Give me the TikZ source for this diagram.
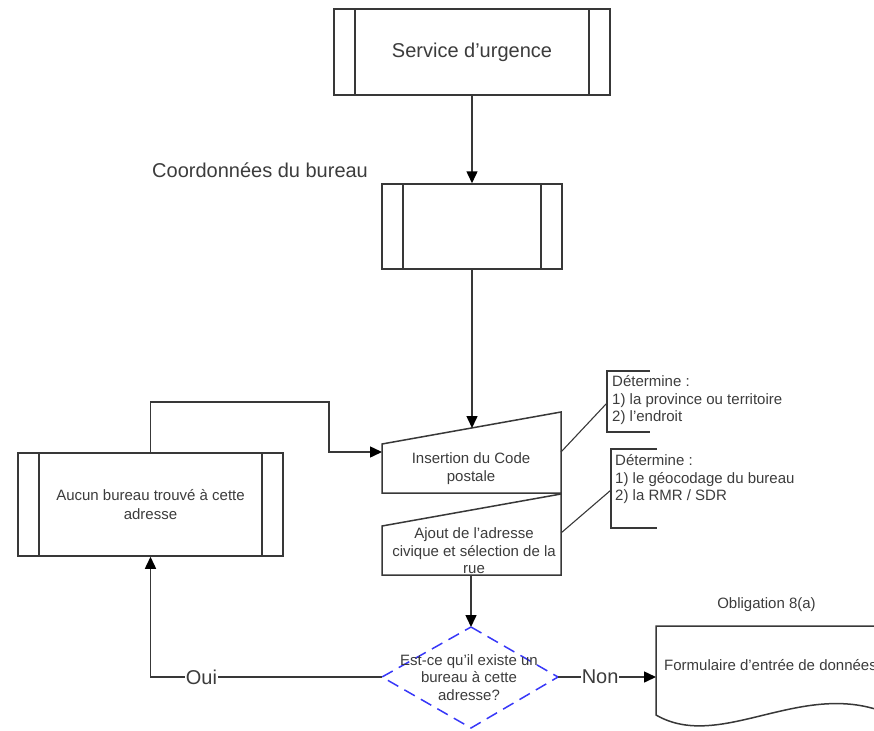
\documentclass[tikz,border=0pt]{standalone}
\usepackage{fontspec}
\setmainfont{Liberation Sans}
\usetikzlibrary{arrows.meta,calc}

\definecolor{ink}{HTML}{383838}
\definecolor{txt}{HTML}{3C3C3C}
\definecolor{decblue}{HTML}{3838F8}

\newcommand\txtS{\fontsize{15}{17.5}\selectfont}
\newcommand\txtL{\fontsize{20}{24}\selectfont}

\tikzset{
  flowline/.style={draw=ink, line width=1.5pt},
  arr/.style={flowline, -{Triangle[length=12pt,width=11pt,color=black]}},
  thinline/.style={draw=ink, line width=1.1pt},
  proc/.style={rectangle, flowline, fill=white, inner sep=0pt,
    text=txt, align=center,
    path picture={
      \draw[flowline]
        ([xshift=21pt]path picture bounding box.north west) --
        ([xshift=21pt]path picture bounding box.south west)
        ([xshift=-21pt]path picture bounding box.north east) --
        ([xshift=-21pt]path picture bounding box.south east);
    }},
  lbl/.style={text=txt, inner sep=0pt, align=center, font=\txtS},
  biglbl/.style={text=txt, inner sep=0pt, font=\txtL},
  edgelbl/.style={biglbl, fill=white, inner xsep=1pt, inner ysep=2pt},
  note/.style={text=txt, inner sep=0pt, align=left, font=\txtS},
  decision/.style={draw=decblue, line width=1.5pt, dash pattern=on 12pt off 7pt},
}

\begin{document}
\begin{tikzpicture}[x=1pt, y=-1pt, line join=miter]
\useasboundingbox (0,0) rectangle (874,730);
\clip (0,0) rectangle (874,730);

% --- predefined-process boxes
\node[proc, minimum width=276pt, minimum height=86pt, font=\txtL] (svc) at (472,52) {Service d’urgence};
\node[proc, minimum width=180pt, minimum height=85pt] (coord) at (472,226.5) {};
\node[biglbl, anchor=west] (coordlbl) at (152,170) {Coordonnées du bureau};
\node[proc, minimum width=265pt, minimum height=103pt, font=\txtS] (aucun) at (150.5,504.5)
  {Aucun bureau trouvé à cette\\[1.5pt]adresse};

% --- manual input: postal code
\coordinate (insTL) at (382,444);
\coordinate (insTR) at (561,412);
\coordinate (insBR) at (561,493);
\coordinate (insBL) at (382,493);
\draw[flowline, fill=white] (insTL) -- (insTR) -- (insBR) -- (insBL) -- cycle;
\node[lbl] (ins) at (471,468.5) {Insertion du Code\\postale};
\coordinate (insIn) at (472,428);
\coordinate (insW) at (382,452);
\coordinate (insE) at (561,452);

% --- manual input: civic address
\coordinate (ajTL) at (382,526);
\coordinate (ajTR) at (561,494);
\coordinate (ajBR) at (561,575);
\coordinate (ajBL) at (382,575);
\draw[flowline, fill=white] (ajTL) -- (ajTR) -- (ajBR) -- (ajBL) -- cycle;
\node[lbl] (ajout) at (474,551) {Ajout de l’adresse\\civique et sélection de la\\rue};
\coordinate (ajBot) at (471,575);
\coordinate (ajE) at (561,533);

% --- decision
\coordinate (decT) at (471,627);
\coordinate (decL) at (382,677);
\coordinate (decR) at (558,677);
\coordinate (decB) at (471,728);
\draw[decision] (decT) -- (decR) -- (decB) -- (decL) -- cycle;
\node[lbl] (dec) at (469,677.5) {Est-ce qu’il existe un\\bureau à cette\\adresse?};

% --- document: data entry form
\coordinate (formW) at (656,677);
\draw[flowline, fill=white] (656,715) -- (656,626) -- (900,626) -- (900,712)
  -- (884,712) .. controls (800,680) and (720,752) .. (656,715) -- cycle;
\node[lbl, anchor=west] (form) at (664,665) {Formulaire d’entrée de données};
\node[lbl] (oblig) at (766.5,605) {Obligation 8(a)};

% --- annotations
\draw[flowline] (650,371) -- (607,371) -- (607,432) -- (650,432);
\coordinate (noteA) at (607,403);
\node[note, anchor=north west] (annA) at (612,375.5)
  {Détermine :\\1) la province ou territoire\\2) l’endroit};
\draw[flowline] (657,449) -- (611,449) -- (611,528) -- (657,528);
\coordinate (noteB) at (611,490);
\node[note, anchor=north west] (annB) at (615,454.5)
  {Détermine :\\1) le géocodage du bureau\\2) la RMR / SDR};
\draw[thinline] (insE) -- (noteA);
\draw[thinline] (ajE) -- (noteB);

% --- flow connectors
\draw[arr] (svc.south) -- (coord.north);
\draw[arr] (coord.south) -- (insIn);
\draw[arr] (ajBot) -- (decT);
\coordinate (jog) at (329,402);
\draw[arr] (aucun.north) |- (jog) |- (insW);
\draw[arr] (decL) -| (aucun.south) node[edgelbl, pos=0.39] (oui) {Oui};
\draw[arr] (decR) -- (formW) node[edgelbl, pos=0.43] (non) {Non};
\end{tikzpicture}
\end{document}
